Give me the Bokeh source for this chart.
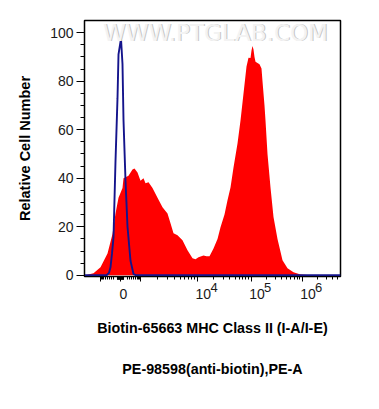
import numpy as np
from bokeh.plotting import figure
from bokeh.models import FixedTicker, Label, Range1d, LinearAxis, CustomJSTickFormatter
from bokeh.embed import file_html
from bokeh.resources import INLINE

# ---- data (x in display channels of the 256-channel biexponential scale) ----
red_x = [0, 1, 9, 16, 23, 28, 31, 34, 38, 39, 44, 48, 50, 53, 56, 59, 61, 64, 68, 73,
         78, 83, 86, 89, 93, 98, 103, 108, 111, 114, 119, 122, 125, 129, 133, 136, 140,
         143, 146, 149, 153, 156, 159, 162, 164, 166, 167, 168, 169, 170, 171, 173, 175,
         177, 178, 180, 181, 183, 186, 189, 193, 198, 203, 209, 216, 226, 256]
red_y = [0, 0, 0.8, 3.3, 9, 17, 25.5, 32, 36, 40, 41, 43.6, 44, 42.4, 39, 40, 37.9, 38.3,
         36, 32, 28, 25.5, 21.4, 17.3, 16.5, 14.4, 10.3, 7, 6.6, 7.4, 8.2, 7.8, 7.8, 11,
         15, 19.8, 25, 30.9, 36.2, 44.4, 54.3, 63.8, 74.9, 86, 89.7, 89.5, 92.6, 94.5, 93,
         90, 88, 87.5, 87, 85.2, 80, 70, 63.8, 50, 36.2, 24, 15, 6.2, 2.9, 1.2, 0.3, 0, 0]

blue_x = [0, 22, 24.5, 26, 27.5, 29, 31, 33, 34, 36.5, 38, 39, 41, 43, 46, 49, 52, 256]
blue_y = [0, 0, 1, 3.3, 9, 15.6, 47, 73, 91, 97.5, 87, 64, 39, 20, 6, 0.5, 0, 0]

# tick values (fluorescence units) and labels
major_vals = [-1000, 0, 1000, 1e4, 1e5, 1e6]
label_vals = [0, 1e4, 1e5, 1e6]
label_base = ["0", "10", "10", "10"]
label_sup = ["4", "5", "6"]
sup_vals = [1e4, 1e5, 1e6]

# biexponential display scale: linear-ish core + per-decade channel anchors
LIN_CENTER, LIN_HALF, LIN_W = 36.0, 20.0, 300.0
DEC_EXP = [3, 4, 5, 6, 7]
DEC_CH = [56.0, 113.0, 166.7, 217.7, 268.7]


def to_ch(v):
    if abs(v) <= 1000:
        return LIN_CENTER + LIN_HALF * np.arcsinh(v / LIN_W) / np.arcsinh(1000 / LIN_W)
    return float(np.interp(np.log10(v), DEC_EXP, DEC_CH))


minor_vals = []
for k in range(1, 10):
    minor_vals += [10 * k, -10 * k]
for k in range(1, 10):
    minor_vals += [100 * k, -100 * k]
for e in (1e3, 1e4, 1e5, 1e6):
    for k in range(2, 10):
        minor_vals.append(k * e)

major_ch = [to_ch(v) for v in major_vals]
minor_ch = [c for c in (to_ch(v) for v in minor_vals) if 0 <= c <= 256]

FONT = "Liberation Sans"
W, H = 375, 405
FL, FR, FT, FB = 84, 340, 20, 276

p = figure(width=W, height=H, output_backend="svg", toolbar_location=None,
           x_range=Range1d(0, 256), y_range=Range1d(-0.5, 105),
           min_border_left=FL, min_border_right=W - FR, min_border_top=FT,
           min_border_bottom=H - FB)
p.xgrid.visible = False
p.ygrid.visible = False
p.outline_line_color = "black"
p.outline_line_width = 1.5
p.background_fill_color = "white"
p.border_fill_color = "white"

# histograms
p.varea(x=red_x, y1=0, y2=red_y, fill_color="#ff0000")
p.line(x=blue_x, y=blue_y, line_color="#14148c", line_width=1.9)

blank = CustomJSTickFormatter(code="return '';")

# x axis: tick marks only
xa = p.xaxis[0]
xa.ticker = FixedTicker(ticks=major_ch, minor_ticks=minor_ch)
xa.formatter = blank
xa.major_label_standoff = 0
xa.major_tick_out = 5
xa.major_tick_in = 0
xa.minor_tick_out = 3
xa.minor_tick_in = 0
xa.axis_line_color = "black"


def label_axis(positions, labels, size, standoff):
    ax = LinearAxis(ticker=FixedTicker(ticks=positions, minor_ticks=[]),
                    formatter=CustomJSTickFormatter(args=dict(labels=labels),
                                                    code="return labels[index];"))
    ax.axis_line_color = None
    ax.major_tick_line_color = None
    ax.minor_tick_line_color = None
    ax.major_tick_out = 0
    ax.major_tick_in = 0
    ax.minor_tick_out = 0
    ax.minor_tick_in = 0
    ax.major_label_standoff = standoff
    ax.major_label_text_font = FONT
    ax.major_label_text_font_size = size
    ax.major_label_text_color = "#1a1a1a"
    return ax


# superscript digits, then "0"/"10" (label centres offset right of ticks)
sup_axis = label_axis([to_ch(v) + 16.5 for v in sup_vals], label_sup, "13px", 1)
p.add_layout(sup_axis, "below")
base_pos = [to_ch(0) + 3] + [to_ch(v) + 5.8 for v in label_vals[1:]]
base_axis = label_axis(base_pos, label_base, "14px", -6)
base_axis.axis_label = "Biotin-65663 MHC Class II (I-A/I-E)"
base_axis.axis_label_standoff = 18
base_axis.axis_label_text_font = FONT
base_axis.axis_label_text_font_style = "bold"
base_axis.axis_label_text_font_size = "14.3px"
base_axis.axis_label_text_color = "black"
p.add_layout(base_axis, "below")

t2 = label_axis([], [], "14px", 0)
t2.axis_label = "PE-98598(anti-biotin),PE-A"
t2.axis_label_standoff = 22
t2.axis_label_text_font = FONT
t2.axis_label_text_font_style = "bold"
t2.axis_label_text_font_size = "14.3px"
t2.axis_label_text_color = "black"
p.add_layout(t2, "below")

# y axis
p.yaxis.ticker = FixedTicker(ticks=[0, 20, 40, 60, 80, 100],
                             minor_ticks=list(range(0, 105, 5)))
p.yaxis.major_tick_out = 8
p.yaxis.major_tick_in = 0
p.yaxis.minor_tick_out = 4
p.yaxis.minor_tick_in = 0
p.yaxis.major_label_text_font = FONT
p.yaxis.major_label_text_font_size = "14px"
p.yaxis.major_label_text_color = "#1a1a1a"
p.yaxis.major_label_standoff = 3
p.yaxis.axis_line_color = "black"
p.yaxis.axis_label = "Relative Cell Number"
p.yaxis.axis_label_standoff = 14
p.yaxis.axis_label_text_font = FONT
p.yaxis.axis_label_text_font_style = "bold"
p.yaxis.axis_label_text_font_size = "14.5px"
p.yaxis.axis_label_text_color = "black"

# watermark
p.add_layout(Label(x=131, y=99.9, text="WWW.PTGLAB.COM", x_offset=1,
                   text_align="center", text_baseline="middle", text_font="DejaVu Sans",
                   text_font_size="23px", text_color="#c4c4c4"))
p.add_layout(Label(x=131, y=99.9, text="WWW.PTGLAB.COM",
                   text_align="center", text_baseline="middle", text_font="DejaVu Sans",
                   text_font_size="23px", text_color="#f3f3f3"))

open("out.html", "w").write(file_html(p, INLINE))
